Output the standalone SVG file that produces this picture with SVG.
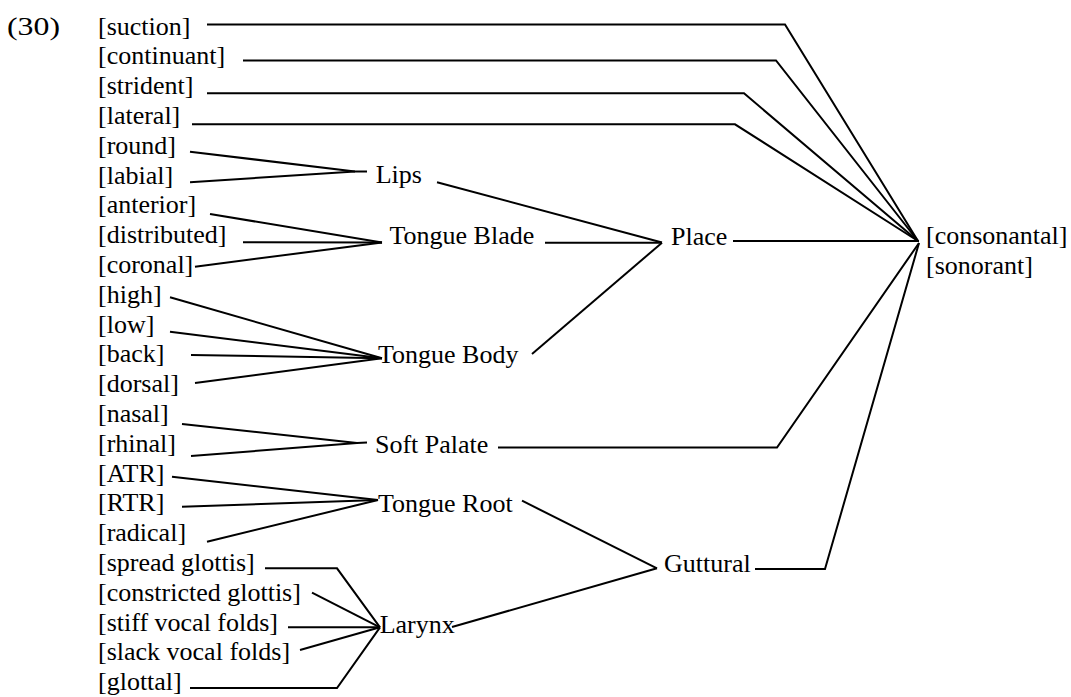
<svg xmlns="http://www.w3.org/2000/svg" width="1071" height="697" viewBox="0 0 1071 697">
<style>
text{font-family:"Liberation Serif","Times New Roman",serif;font-size:26px;fill:#000}
.c{fill:none;stroke:#000;stroke-width:2;stroke-linejoin:miter}
</style>
<rect width="1071" height="697" fill="#fff"/>
<g id="connectors" class="c">
<polyline points="207,24.5 785,24.5 918,241"/>
<polyline points="243,60.5 776,60.5 918,241"/>
<polyline points="207,93.3 744,93.3 918,241"/>
<polyline points="192,124.3 735,124.3 918,241"/>
<polyline points="190,151.7 355,171.5 367,171.5"/>
<polyline points="190,182.3 355,171.5"/>
<polyline points="437,182.3 662,242.5"/>
<polyline points="210,214 382,242.5"/>
<polyline points="243,242.3 382,242.5"/>
<polyline points="195,266.7 382,242.5"/>
<polyline points="545,242.7 662,242.7"/>
<polyline points="532,354 662,242.7"/>
<polyline points="733,241 919,241"/>
<polyline points="170,297.3 382,358.3"/>
<polyline points="170,331.7 382,358.3"/>
<polyline points="191,355 382,358.3"/>
<polyline points="195,383 382,358.3"/>
<polyline points="182,424 357,443 367,442.5"/>
<polyline points="191,456 357,443"/>
<polyline points="498,447.5 777,447.5 919,243"/>
<polyline points="172,476.7 378,500"/>
<polyline points="182,506.7 378,500"/>
<polyline points="207,541.7 378,500"/>
<polyline points="522,500.7 657,568.3"/>
<polyline points="452,627 657,568.3"/>
<polyline points="755,569 825,569 919,243"/>
<polyline points="265,568.3 337,568.3 380,627.3"/>
<polyline points="312,592.7 380,627.3"/>
<polyline points="288,627.3 380,627.3"/>
<polyline points="300,650 380,627.3"/>
<polyline points="190,688 337,688 380,627.3"/>
</g>
<g id="label-30"><text x="7" y="34.5" textLength="53" lengthAdjust="spacingAndGlyphs">(30)</text></g>
<g id="suction"><text x="98" y="34.5">[suction]</text></g>
<g id="continuant"><text x="98" y="64.3">[continuant]</text></g>
<g id="strident"><text x="98" y="94.1">[strident]</text></g>
<g id="lateral"><text x="98" y="123.9">[lateral]</text></g>
<g id="round"><text x="98" y="153.7">[round]</text></g>
<g id="labial"><text x="98" y="183.5">[labial]</text></g>
<g id="anterior"><text x="98" y="213.3">[anterior]</text></g>
<g id="distributed"><text x="98" y="243.1">[distributed]</text></g>
<g id="coronal"><text x="98" y="272.9">[coronal]</text></g>
<g id="high"><text x="98" y="302.7">[high]</text></g>
<g id="low"><text x="98" y="332.5">[low]</text></g>
<g id="back"><text x="98" y="362.3">[back]</text></g>
<g id="dorsal"><text x="98" y="392.1">[dorsal]</text></g>
<g id="nasal"><text x="98" y="421.9">[nasal]</text></g>
<g id="rhinal"><text x="98" y="451.7">[rhinal]</text></g>
<g id="ATR"><text x="98" y="481.5">[ATR]</text></g>
<g id="RTR"><text x="98" y="511.3">[RTR]</text></g>
<g id="radical"><text x="98" y="541.1">[radical]</text></g>
<g id="spread-glottis"><text x="98" y="570.9">[spread glottis]</text></g>
<g id="constricted-glottis"><text x="98" y="600.7">[constricted glottis]</text></g>
<g id="stiff-vocal-folds"><text x="98" y="630.5">[stiff vocal folds]</text></g>
<g id="slack-vocal-folds"><text x="98" y="660.3">[slack vocal folds]</text></g>
<g id="glottal"><text x="98" y="690.1">[glottal]</text></g>
<g id="lips"><text x="375.7" y="183.3">Lips</text></g>
<g id="tongue-blade"><text x="389.5" y="244">Tongue Blade</text></g>
<g id="tongue-body"><text x="378" y="362.5">Tongue Body</text></g>
<g id="place"><text x="671" y="244.5">Place</text></g>
<g id="soft-palate"><text x="375" y="452.5">Soft Palate</text></g>
<g id="tongue-root"><text x="378" y="512">Tongue Root</text></g>
<g id="guttural"><text x="664" y="571.5">Guttural</text></g>
<g id="larynx"><text x="379.7" y="632.5">Larynx</text></g>
<g id="consonantal-sonorant"><text x="926" y="244.3">[consonantal]</text><text x="926" y="273.5">[sonorant]</text></g>
</svg>
